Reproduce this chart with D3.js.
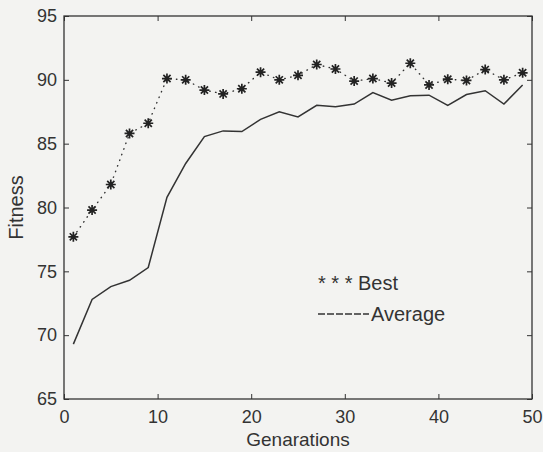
<!DOCTYPE html>
<html>
<head>
<meta charset="utf-8">
<script src="https://cdn.jsdelivr.net/npm/d3@7"></script>
<style>
  body { margin: 0; background: #f3f3f1; }
  svg { display: block; font-family: "Liberation Sans", Arial, Helvetica, sans-serif; }
  .tick text { fill: #333; }
</style>
</head>
<body>
<div id="chart"></div>
<script>
// generations where values were recorded
var generations = [1, 3, 5, 7, 9, 11, 13, 15, 17, 19, 21, 23, 25, 27, 29, 31, 33, 35, 37, 39, 41, 43, 45, 47, 49];

// best fitness per generation (asterisks)
var bestFitness = [77.7, 79.8, 81.8, 85.8, 86.6, 90.1, 90.0, 89.2, 88.9, 89.3, 90.6, 90.0, 90.35, 91.2, 90.85,
  89.9, 90.1, 89.75, 91.3, 89.6, 90.05, 89.95, 90.8, 90.0, 90.55];

// average fitness per generation (solid line)
var avgFitness = [69.3, 72.8, 73.8, 74.3, 75.3, 80.8, 83.45, 85.55, 86.0, 85.95, 86.9, 87.5, 87.1, 88.0, 87.9,
  88.1, 89.0, 88.4, 88.75, 88.8, 88.0, 88.85, 89.15, 88.1, 89.6];

var xTicks = [0, 10, 20, 30, 40, 50];
var yTicks = [65, 70, 75, 80, 85, 90, 95];

var svgWidth = 543;
var svgHeight = 452;
var margin = { top: 16, right: 11, bottom: 53, left: 64 };
var w = svgWidth - margin.left - margin.right;
var h = svgHeight - margin.top - margin.bottom;
var ink = "#333";

var svg = d3.select("#chart").append("svg")
  .attr("width", svgWidth)
  .attr("height", svgHeight);

var g = svg.append("g")
  .attr("transform", `translate(${margin.left}, ${margin.top})`);

var x = d3.scaleLinear().domain([0, 50]).range([0, w]);
var y = d3.scaleLinear().domain([65, 95]).range([h, 0]);

// axes, ticks pointing inward on all four sides
g.append("g")
  .attr("transform", `translate(0, ${h})`)
  .call(d3.axisBottom(x).tickValues(xTicks).tickSizeInner(-5).tickSizeOuter(0).tickPadding(11))
  .call(a => a.select(".domain").remove())
  .selectAll("text").style("font-size", "18px");

g.append("g")
  .call(d3.axisLeft(y).tickValues(yTicks).tickSizeInner(-5).tickSizeOuter(0).tickPadding(7))
  .call(a => a.select(".domain").remove())
  .selectAll("text").style("font-size", "18px");

g.append("g")
  .call(d3.axisTop(x).tickValues(xTicks).tickSizeInner(-5).tickSizeOuter(0).tickFormat(""))
  .call(a => a.select(".domain").remove());

g.append("g")
  .attr("transform", `translate(${w}, 0)`)
  .call(d3.axisRight(y).tickValues(yTicks).tickSizeInner(-5).tickSizeOuter(0).tickFormat(""))
  .call(a => a.select(".domain").remove());

g.selectAll(".tick line").attr("stroke", ink).attr("stroke-width", 1);

g.append("rect")
  .attr("width", w)
  .attr("height", h)
  .attr("fill", "none")
  .attr("stroke", ink)
  .attr("stroke-width", 1.3);

// average line
var avgLine = d3.line()
  .x((d, i) => x(generations[i]))
  .y(d => y(d));

g.append("path")
  .datum(avgFitness)
  .attr("d", avgLine)
  .attr("fill", "none")
  .attr("stroke", ink)
  .attr("stroke-width", 1.5);

// best: dotted line + asterisks
g.append("path")
  .datum(bestFitness)
  .attr("d", avgLine)
  .attr("fill", "none")
  .attr("stroke", ink)
  .attr("stroke-width", 1.4)
  .attr("stroke-linecap", "round")
  .attr("stroke-dasharray", "0.5,5.5");

var r = 5;
var star = "M" + (-r) + ",0H" + r + "M0," + (-r) + "V" + r +
  "M" + (-r * 0.72) + "," + (-r * 0.72) + "L" + (r * 0.72) + "," + (r * 0.72) +
  "M" + (-r * 0.72) + "," + (r * 0.72) + "L" + (r * 0.72) + "," + (-r * 0.72);

g.selectAll(".star")
  .data(bestFitness)
  .enter()
  .append("path")
  .attr("class", "star")
  .attr("transform", (d, i) => `translate(${x(generations[i])}, ${y(d)})`)
  .attr("d", star)
  .attr("fill", "none")
  .attr("stroke", "#222")
  .attr("stroke-width", 1.7);

// legend
svg.append("text")
  .attr("x", 318)
  .attr("y", 290)
  .style("font-size", "20px")
  .attr("fill", ink)
  .text("* * * Best");

svg.append("line")
  .attr("x1", 318).attr("x2", 369)
  .attr("y1", 314).attr("y2", 314)
  .attr("stroke", ink)
  .attr("stroke-width", 1.6)
  .attr("stroke-dasharray", "7,2");

svg.append("text")
  .attr("x", 371)
  .attr("y", 321)
  .style("font-size", "20px")
  .attr("fill", ink)
  .text("Average");

// axis labels
svg.append("text")
  .attr("x", margin.left + w / 2)
  .attr("y", 446)
  .attr("text-anchor", "middle")
  .style("font-size", "19px")
  .attr("fill", ink)
  .text("Genarations");

svg.append("text")
  .attr("transform", `translate(23, ${margin.top + h / 2}) rotate(-90)`)
  .attr("text-anchor", "middle")
  .style("font-size", "20px")
  .attr("fill", ink)
  .text("Fitness");
</script>
</body>
</html>
